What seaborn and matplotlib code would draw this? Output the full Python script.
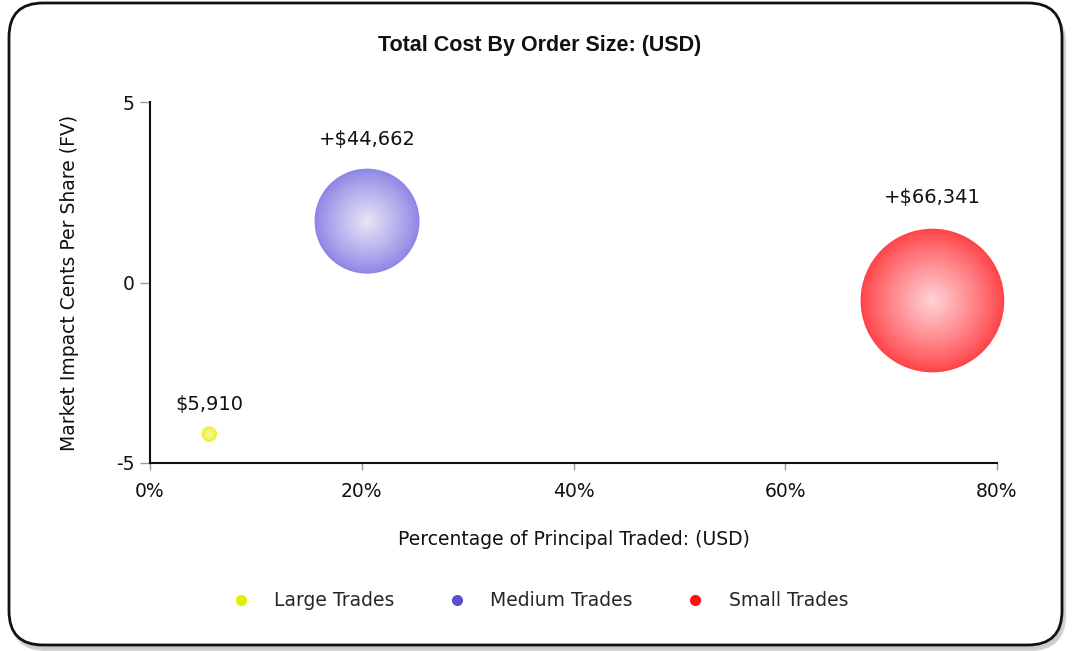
import numpy as np
import pandas as pd
import matplotlib
matplotlib.use("Agg")
import matplotlib.pyplot as plt
import matplotlib.colors as mcolors
from matplotlib.patches import FancyBboxPatch
from matplotlib.lines import Line2D
import seaborn as sns

# ---- data ----
categories = ["Large Trades", "Medium Trades", "Small Trades"]
pct_principal = [5.6, 20.5, 73.9]          # % of principal traded
impact_cents = [-4.2, 1.7, -0.5]           # market impact cents per share
total_cost = [5910, 44662, 66341]          # USD
cost_labels = ["$5,910", "+$44,662", "+$66,341"]
x_ticks = [0, 20, 40, 60, 80]
y_ticks = [-5, 0, 5]

df = pd.DataFrame({"category": categories, "pct": pct_principal,
                   "impact": impact_cents, "cost": total_cost,
                   "label": cost_labels})

# ---- styles ----
edge_colors = {"Large Trades": "#EEF02A", "Medium Trades": "#8E86E6", "Small Trades": "#FF4448"}
center_colors = {"Large Trades": "#F4F6B0", "Medium Trades": "#E8E6F6", "Small Trades": "#FFD4D8"}
legend_colors = {"Large Trades": "#E2F000", "Medium Trades": "#5A4FCF", "Small Trades": "#FF1010"}
bubble_sizes = {"Large Trades": 120, "Medium Trades": 5715, "Small Trades": 10700}
label_offsets = {"Large Trades": 21, "Medium Trades": 59, "Small Trades": 74}

sns.set_theme(style="white")
plt.rcParams["font.family"] = ["DejaVu Sans"]
plt.rcParams["axes.unicode_minus"] = False

fig = plt.figure(figsize=(10.73, 6.51), dpi=100)
fig.patch.set_facecolor("white")

# rounded frame
bg = fig.add_axes([0, 0, 1, 1], zorder=-10)
bg.set_xlim(0, 1073)
bg.set_ylim(0, 651)
bg.axis("off")
shadow = FancyBboxPatch((12, 2), 1052, 640, boxstyle="round,pad=0,rounding_size=34",
                        facecolor="#c8c8c8", edgecolor="#c8c8c8", lw=3, alpha=0.8)
bg.add_patch(shadow)
frame = FancyBboxPatch((9, 6), 1053, 642, boxstyle="round,pad=0,rounding_size=34",
                       facecolor="white", edgecolor="#111111", lw=2)
bg.add_patch(frame)

ax = fig.add_axes([150 / 1073, 1 - 463 / 651, 847 / 1073, 361 / 651])
ax.set_facecolor("none")

# bubbles with radial shading, drawn as concentric layers
n_layers = 40
for k in range(n_layers):
    f = 1 - k / n_layers
    t = (1 - f) ** 0.9
    pal = {}
    for c in categories:
        e = np.array(mcolors.to_rgb(edge_colors[c]))
        m = np.array(mcolors.to_rgb(center_colors[c]))
        pal[c] = tuple(e + (m - e) * t)
    sizes = {c: bubble_sizes[c] * f * f for c in categories}
    sns.scatterplot(data=df, x="pct", y="impact", hue="category", palette=pal,
                    size="category", sizes=sizes, legend=False, linewidth=0,
                    ax=ax, zorder=3, clip_on=False)

for _, r in df.iterrows():
    ax.annotate(r["label"], (r["pct"], r["impact"]),
                xytext=(0, label_offsets[r["category"]]), textcoords="offset points",
                ha="center", va="center", fontsize=14, color="#111111")

ax.set_xlim(0, 80)
ax.set_ylim(-5, 5)
ax.set_xticks(x_ticks)
ax.set_xticklabels([f"{v}%" for v in x_ticks])
ax.set_yticks(y_ticks)
for s in ["top", "right"]:
    ax.spines[s].set_visible(False)
for s in ["left", "bottom"]:
    ax.spines[s].set_color("#111111")
    ax.spines[s].set_linewidth(1.5)
ax.tick_params(axis="y", which="major", direction="out", length=7, width=1,
               color="#999999", pad=4, labelsize=13.5, labelcolor="#111111", left=True)
ax.tick_params(axis="x", which="major", direction="out", length=5, width=1,
               color="#999999", pad=9, labelsize=13.5, labelcolor="#111111", bottom=True)
ax.grid(False)

ax.set_xlabel("Percentage of Principal Traded: (USD)", fontsize=13.5, va="center", color="#111111")
ax.xaxis.set_label_coords(0.5, -0.213)
ax.set_ylabel("Market Impact Cents Per Share (FV)", fontsize=13.5, va="center", color="#111111")
ax.yaxis.set_label_coords(-0.0945, 0.5)

fig.text(0.503, 1 - 46 / 651, "Total Cost By Order Size: (USD)",
         family=["Liberation Sans Narrow", "Liberation Sans"], fontweight="bold",
         fontsize=15.5, ha="center", va="center", color="#111111")

handles = [Line2D([0], [0], marker="o", linestyle="none", markersize=8,
                  markerfacecolor=legend_colors[c], markeredgewidth=0) for c in categories]
fig.legend(handles, categories, loc="center", bbox_to_anchor=(0.503, 1 - 601 / 651),
           ncol=3, frameon=False, fontsize=13.5, handlelength=1, handletextpad=1.3,
           columnspacing=2.8)

fig.savefig("out.png", dpi=100, facecolor="white")
